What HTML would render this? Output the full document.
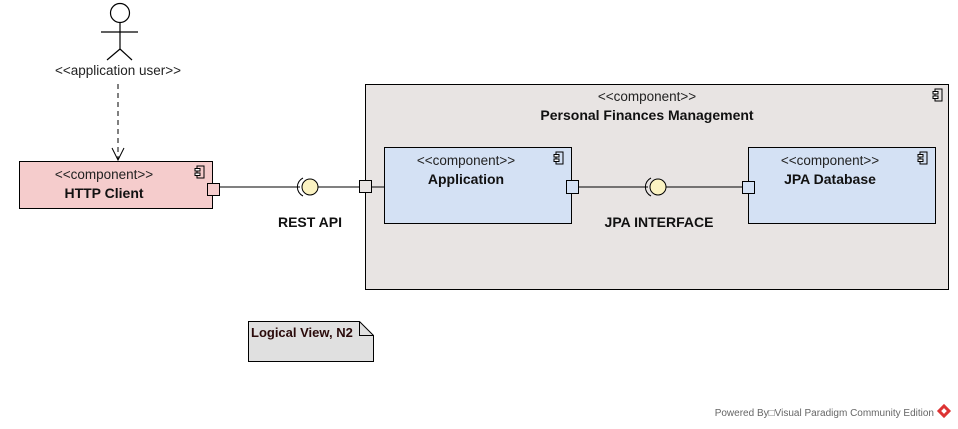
<!DOCTYPE html>
<html><head><meta charset="utf-8"><style>
html,body{margin:0;padding:0;background:#fff;width:958px;height:429px;overflow:hidden}
text{font-family:"Liberation Sans",Arial,sans-serif}
</style></head><body>
<svg width="958" height="429" viewBox="0 0 958 429" xmlns="http://www.w3.org/2000/svg">
<defs>
<g id="ci">
<rect x="2" y="0" width="7" height="12" fill="none" stroke="#000" stroke-width="1"/>
<rect x="0" y="2.5" width="5" height="2.5" fill="#fff" stroke="#000" stroke-width="1"/>
<rect x="0" y="7" width="5" height="2.5" fill="#fff" stroke="#000" stroke-width="1"/>
</g>
</defs>
<circle cx="120" cy="13" r="9.5" fill="#fff" stroke="#000" stroke-width="1.2"/>
<line x1="120" y1="23" x2="120" y2="49" stroke="#000" stroke-width="1.2"/>
<line x1="101" y1="32" x2="138" y2="32" stroke="#000" stroke-width="1.2"/>
<line x1="120" y1="49" x2="107" y2="60" stroke="#000" stroke-width="1.2"/>
<line x1="120" y1="49" x2="132" y2="60" stroke="#000" stroke-width="1.2"/>
<text x="118" y="75" font-size="13.5" text-anchor="middle" fill="#222">&lt;&lt;application user&gt;&gt;</text>
<line x1="118" y1="84" x2="118" y2="160" stroke="#000" stroke-dasharray="5,4"/>
<polyline points="112,148 118,160 124,148" fill="none" stroke="#000"/>
<rect x="19.5" y="161.5" width="193" height="47" fill="#f5cccc" stroke="#000"/>
<text x="104" y="179" font-size="13.5" text-anchor="middle" fill="#222">&lt;&lt;component&gt;&gt;</text>
<text x="104" y="198" font-size="14" font-weight="bold" text-anchor="middle" fill="#111">HTTP Client</text>
<use href="#ci" x="195" y="166"/>
<rect x="207.5" y="183.5" width="12" height="12" fill="#f5cccc" stroke="#000"/>
<line x1="220" y1="187" x2="300" y2="187" stroke="#000"/>
<path d="M303,178 A10,10 0 0 0 303,196" fill="none" stroke="#000"/>
<circle cx="310" cy="187" r="8" fill="#fbf3c2" stroke="#000"/>
<line x1="318" y1="187" x2="360" y2="187" stroke="#000"/>
<text x="310" y="227" font-size="14" font-weight="bold" text-anchor="middle" fill="#111">REST API</text>
<rect x="365.5" y="84.5" width="583" height="205" fill="#e8e4e3" stroke="#000"/>
<text x="647" y="101" font-size="13.5" text-anchor="middle" fill="#222">&lt;&lt;component&gt;&gt;</text>
<text x="647" y="120" font-size="14" font-weight="bold" text-anchor="middle" fill="#111">Personal Finances Management</text>
<use href="#ci" x="933" y="89"/>
<rect x="359.5" y="180.5" width="12" height="12" fill="#e8e4e3" stroke="#000"/>
<line x1="372" y1="187" x2="384" y2="187" stroke="#000"/>
<rect x="384.5" y="147.5" width="187" height="76" fill="#d4e1f4" stroke="#000"/>
<text x="466" y="165" font-size="13.5" text-anchor="middle" fill="#222">&lt;&lt;component&gt;&gt;</text>
<text x="466" y="184" font-size="14" font-weight="bold" text-anchor="middle" fill="#111">Application</text>
<use href="#ci" x="554" y="152"/>
<rect x="566.5" y="180.5" width="12" height="13" fill="#d4e1f4" stroke="#000"/>
<line x1="579" y1="187" x2="648" y2="187" stroke="#000"/>
<path d="M651,178 A10,10 0 0 0 651,196" fill="none" stroke="#000"/>
<circle cx="658" cy="187" r="8" fill="#fbf3c2" stroke="#000"/>
<line x1="666" y1="187" x2="742" y2="187" stroke="#000"/>
<text x="659" y="227" font-size="14" font-weight="bold" text-anchor="middle" fill="#111">JPA INTERFACE</text>
<rect x="748.5" y="147.5" width="187" height="76" fill="#d4e1f4" stroke="#000"/>
<text x="830" y="165" font-size="13.5" text-anchor="middle" fill="#222">&lt;&lt;component&gt;&gt;</text>
<text x="830" y="184" font-size="14" font-weight="bold" text-anchor="middle" fill="#111">JPA Database</text>
<use href="#ci" x="918" y="152"/>
<rect x="742.5" y="181.5" width="12" height="12" fill="#d4e1f4" stroke="#000"/>
<path d="M248.5,321.5 H359.5 L373.5,335.5 V361.5 H248.5 Z" fill="#e0e0e0" stroke="#000"/>
<path d="M359.5,321.5 V335.5 H373.5" fill="none" stroke="#000"/>
<text x="251" y="337" font-size="13" font-weight="bold" fill="#2a0a0a">Logical View, N2</text>
<text x="934" y="416" font-size="10" text-anchor="end" fill="#666">Powered By&#9633;Visual Paradigm Community Edition</text>
<g transform="translate(944,411) rotate(45)"><rect x="-5" y="-5" width="10" height="10" fill="#d33"/><rect x="-2" y="-2" width="4" height="4" fill="#fff"/></g>
</svg>
</body></html>
